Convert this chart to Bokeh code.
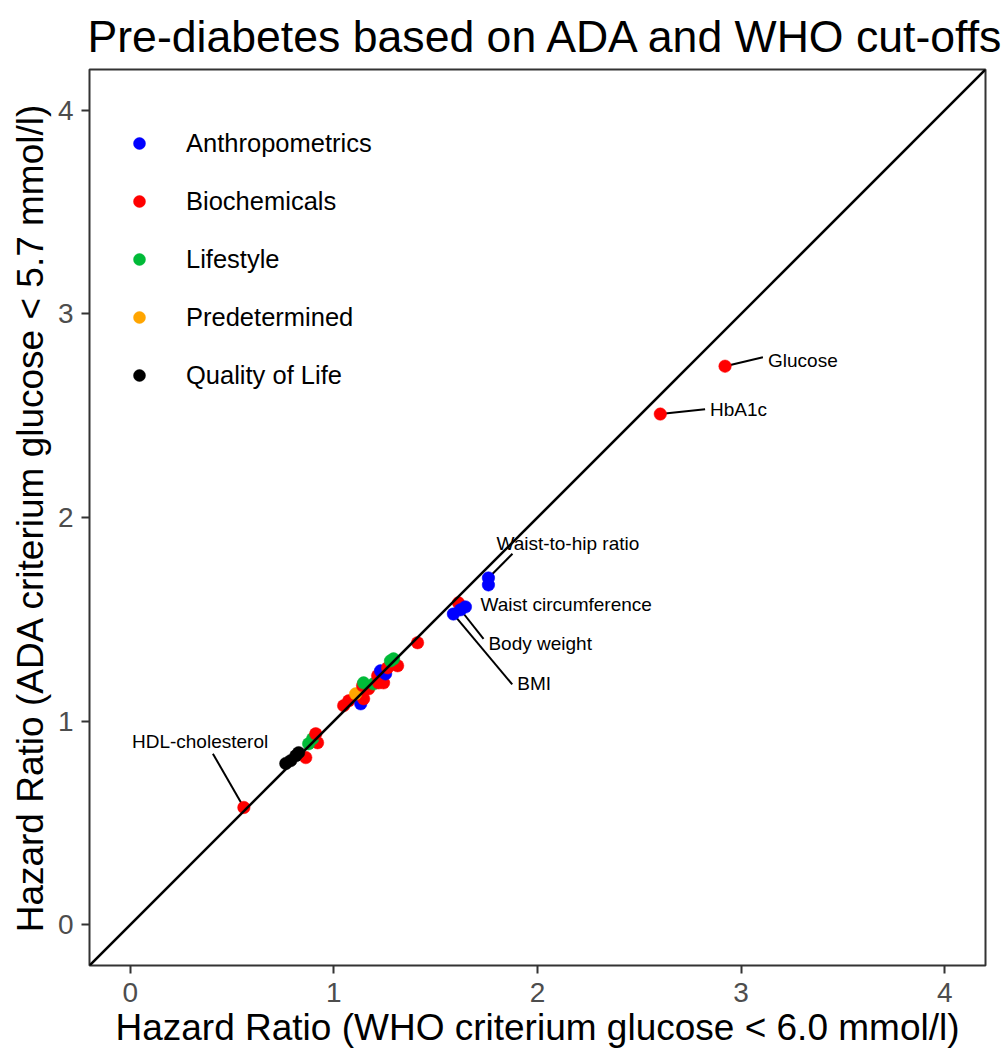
from bokeh.plotting import figure
from bokeh.models import (ColumnDataSource, Range1d, Slope, Legend, LegendItem,
                          FixedTicker, Title)
from bokeh.core.properties import value
from bokeh.embed import file_html
from bokeh.resources import INLINE

FONT = "Liberation Sans"

# ---- data (hazard ratios) ----
categories = ["Anthropometrics", "Biochemicals", "Lifestyle", "Predetermined", "Quality of Life"]
cat_colors = ["#0000FF", "#FF0000", "#00BA38", "#FFA500", "#000000"]

# x: WHO criterium HR, y: ADA criterium HR, group per point
hr_who = [1.048, 1.073, 1.132, 1.146, 1.107, 1.141, 1.171, 1.146, 1.195, 1.215, 1.220, 1.244,
          1.229, 1.254, 1.264, 1.313, 1.278, 1.293,
          0.862, 0.920, 0.876, 0.896, 0.911,
          0.764, 0.788, 0.813, 0.827,
          1.411, 1.612, 1.587, 1.622, 1.646, 1.759, 1.759,
          2.603, 2.921, 0.558]
hr_ada = [1.076, 1.100, 1.085, 1.110, 1.134, 1.174, 1.159, 1.188, 1.183, 1.223, 1.188, 1.188,
          1.247, 1.232, 1.262, 1.272, 1.296, 1.306,
          0.821, 0.894, 0.889, 0.914, 0.938,
          0.792, 0.806, 0.830, 0.845,
          1.385, 1.581, 1.526, 1.547, 1.561, 1.703, 1.669,
          2.508, 2.743, 0.576]
group = ["Biochemicals", "Biochemicals", "Anthropometrics", "Biochemicals", "Predetermined",
         "Biochemicals", "Biochemicals", "Lifestyle", "Lifestyle", "Biochemicals", "Biochemicals",
         "Biochemicals", "Anthropometrics", "Anthropometrics", "Biochemicals", "Biochemicals",
         "Lifestyle", "Lifestyle",
         "Biochemicals", "Biochemicals", "Lifestyle", "Lifestyle", "Biochemicals",
         "Quality of Life", "Quality of Life", "Quality of Life", "Quality of Life",
         "Biochemicals", "Biochemicals", "Anthropometrics", "Anthropometrics", "Anthropometrics",
         "Anthropometrics", "Anthropometrics",
         "Biochemicals", "Biochemicals", "Biochemicals"]
names = [""] * 29 + ["BMI", "Body weight", "Waist circumference", "Waist-to-hip ratio", "",
                     "HbA1c", "Glucose", "HDL-cholesterol"]

# label anchor positions (layout of repel labels) in data units
label_pos = {
    "Glucose": (3.132, 2.772, 3.107, 2.787, "left"),
    "HbA1c": (2.847, 2.532, 2.823, 2.532, "left"),
    "Waist-to-hip ratio": (2.149, 1.870, 1.877, 1.822, "center"),
    "Waist circumference": (1.720, 1.571, None, None, "left"),
    "Body weight": (1.759, 1.380, 1.735, 1.404, "left"),
    "BMI": (1.901, 1.184, 1.876, 1.180, "left"),
    "HDL-cholesterol": (0.343, 0.899, 0.406, 0.840, "center"),
}

color_of = dict(zip(categories, cat_colors))
src = ColumnDataSource(dict(x=hr_who, y=hr_ada, g=group,
                            c=[color_of[g] for g in group]))

p = figure(width=1006, height=1055, output_backend="svg", toolbar_location=None,
           x_range=Range1d(-0.2, 4.2), y_range=Range1d(-0.2, 4.2),
           min_border_left=89, min_border_right=21, min_border_top=0,
           min_border_bottom=90)
p.title = Title(text="Pre-diabetes based on ADA and WHO cut-offs", text_font=FONT,
                text_font_size="44.6px", text_font_style="normal", text_color="#000000",
                align="left", offset=-2, standoff=18)
p.background_fill_color = "white"
p.border_fill_color = "white"
p.outline_line_color = "#333333"
p.outline_line_width = 2
p.xgrid.visible = False
p.ygrid.visible = False

for ax, lab in ((p.xaxis, "Hazard Ratio (WHO criterium glucose < 6.0 mmol/l)"),
                (p.yaxis, "Hazard Ratio (ADA criterium glucose < 5.7 mmol/l)")):
    ax.ticker = FixedTicker(ticks=[0, 1, 2, 3, 4])
    ax.axis_label = lab
    ax.axis_label_text_font = FONT
    ax.axis_label_text_font_size = "37px"
    ax.axis_label_text_font_style = "normal"
    ax.axis_label_text_color = "#000000"
    ax.major_label_text_font = FONT
    ax.major_label_text_font_size = "28px"
    ax.major_label_text_color = "#4D4D4D"
    ax.axis_line_color = None
    ax.major_tick_line_color = "#333333"
    ax.major_tick_line_width = 2
    ax.major_tick_out = 8
    ax.major_tick_in = 0
    ax.minor_tick_line_color = None
p.xaxis.major_label_standoff = 9
p.xaxis.axis_label_standoff = 2
p.yaxis.major_label_standoff = 8
p.yaxis.axis_label_standoff = 4

p.add_layout(Slope(gradient=1, y_intercept=0, line_color="black", line_width=2.6))

# label segments and texts
seg = dict(x0=[], y0=[], x1=[], y1=[])
txt = {"left": dict(x=[], y=[], t=[]), "center": dict(x=[], y=[], t=[])}
for xi, yi, nm in zip(hr_who, hr_ada, names):
    if not nm:
        continue
    lx, ly, sx, sy, al = label_pos[nm]
    if sx is not None:
        seg["x0"].append(xi); seg["y0"].append(yi)
        seg["x1"].append(sx); seg["y1"].append(sy)
    txt[al]["x"].append(lx); txt[al]["y"].append(ly); txt[al]["t"].append(nm)
p.segment("x0", "y0", "x1", "y1", source=ColumnDataSource(seg), line_color="black",
          line_width=2)

r = p.scatter("x", "y", source=src, size=12.5, fill_color="c", line_color="c",
              line_width=0.5)

for al, d in txt.items():
    p.text("x", "y", text="t", source=ColumnDataSource(d), text_font=value(FONT),
           text_font_size="19px", text_align=al, text_baseline="middle",
           text_color="black")

# legend: top of first item 59px below frame top; location = bottom-left of legend box
n = len(categories)
item_h, gap = 30, 28
leg_h = n * item_h + (n - 1) * gap
items = [LegendItem(label=c, renderers=[r], index=group.index(c)) for c in categories]
leg = Legend(items=items, location=(30, 896 - 59 - leg_h), orientation="vertical",
             glyph_width=40, glyph_height=item_h, label_height=item_h, spacing=gap,
             label_standoff=27, padding=0, margin=0,
             label_text_font=FONT, label_text_font_size="25.5px",
             label_text_color="black", border_line_color=None,
             background_fill_alpha=0)
p.add_layout(leg, "center")

open("out.html", "w").write(file_html(p, INLINE))
